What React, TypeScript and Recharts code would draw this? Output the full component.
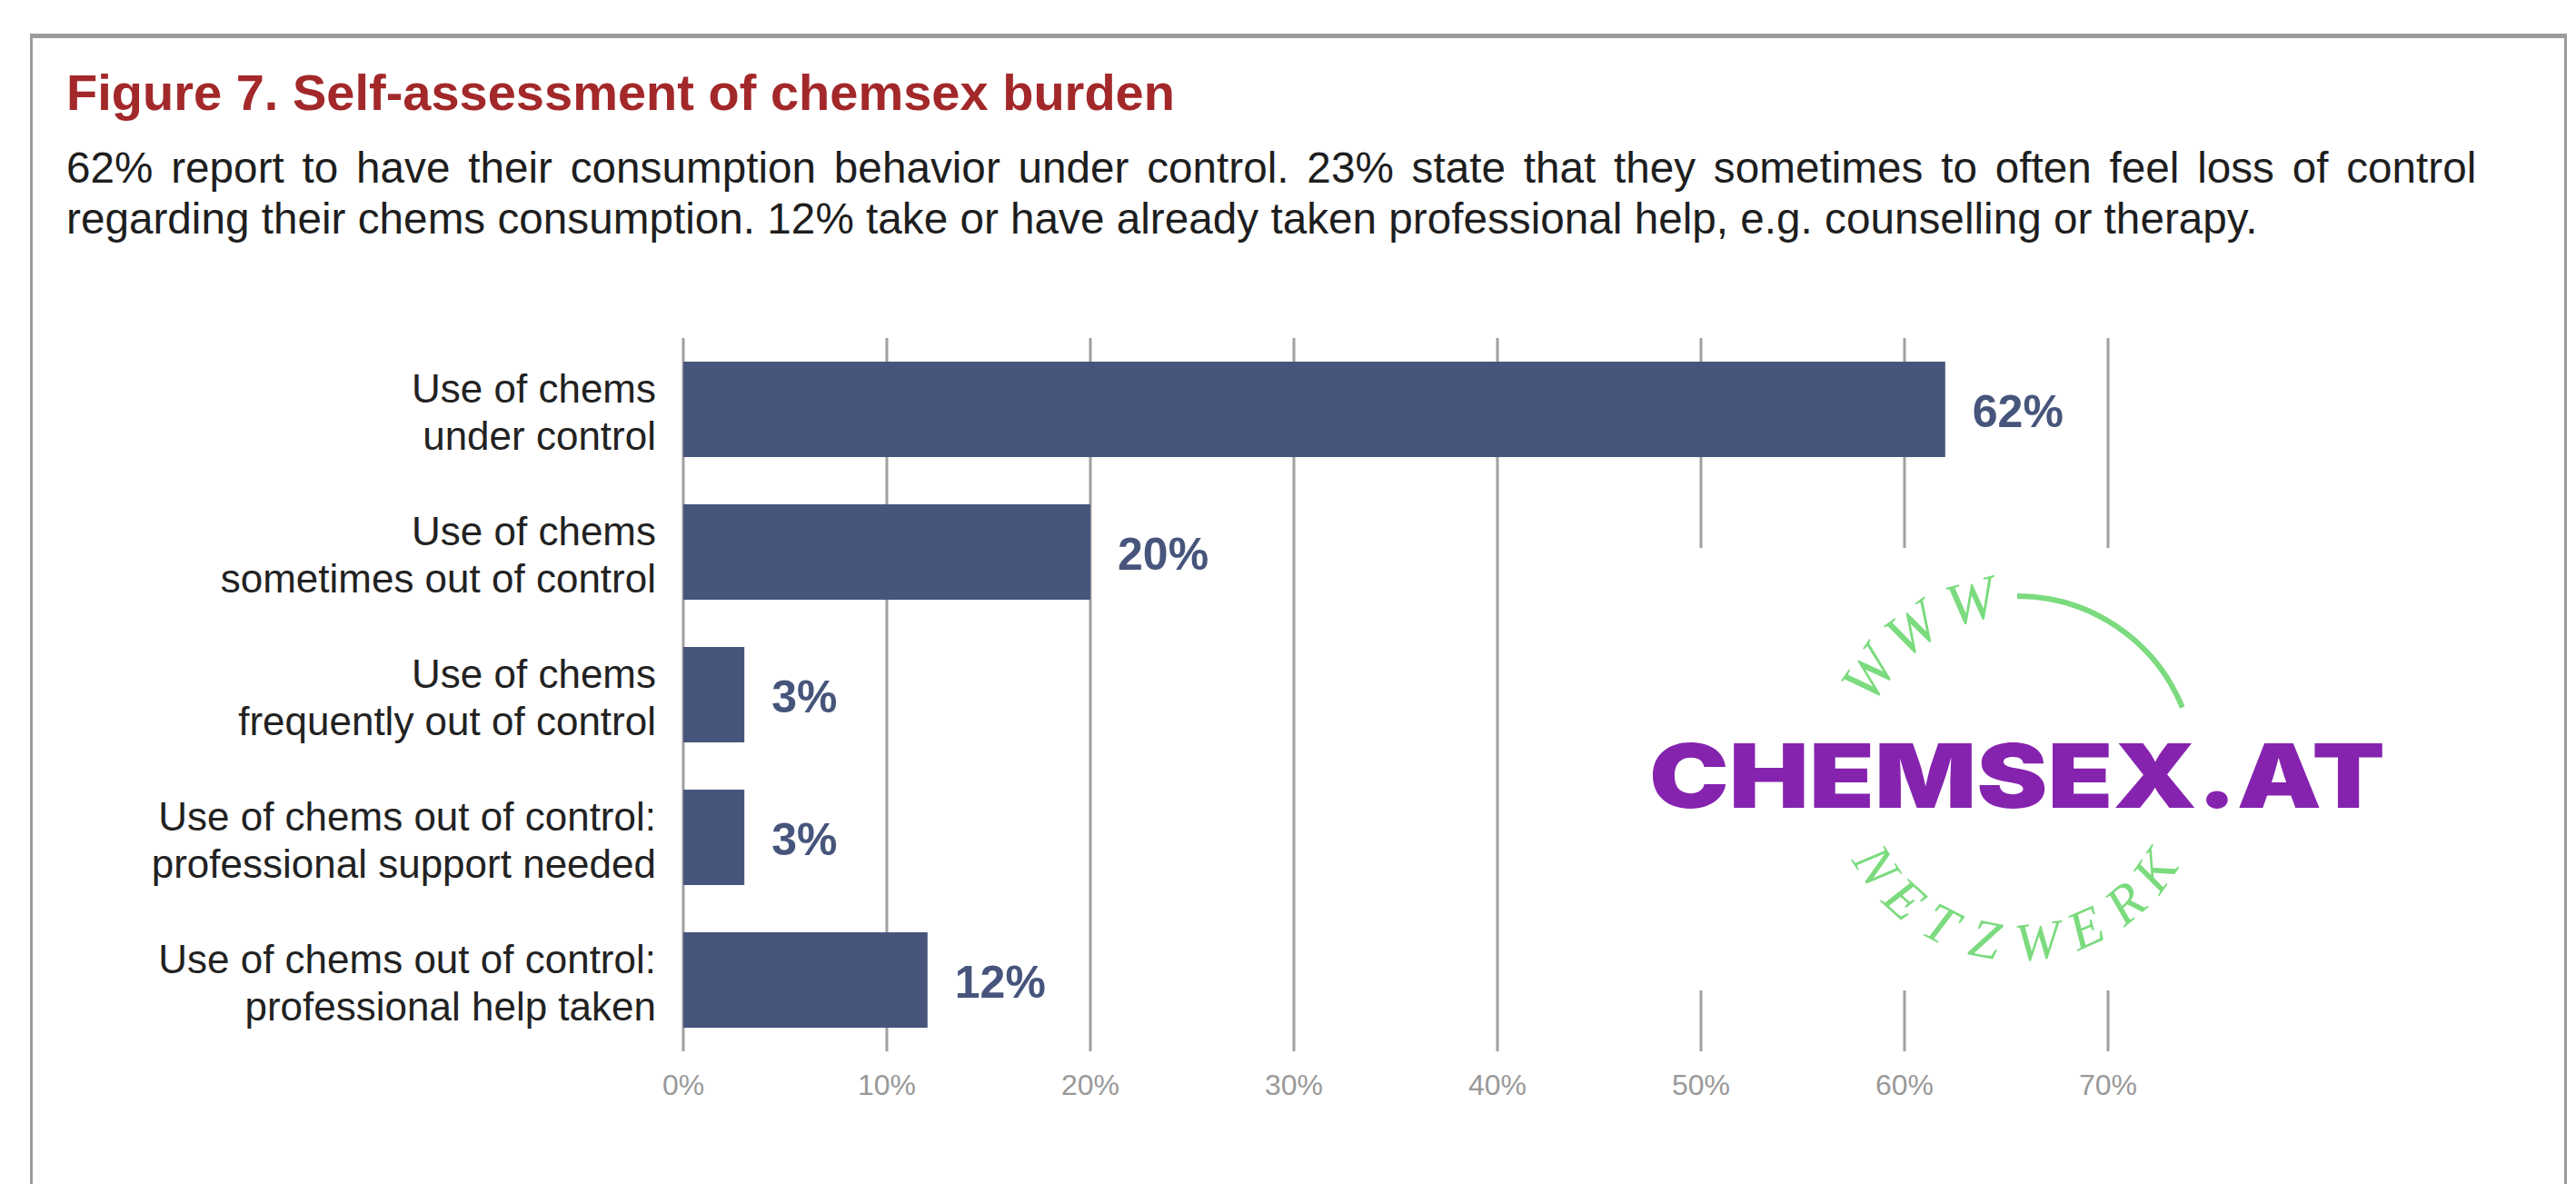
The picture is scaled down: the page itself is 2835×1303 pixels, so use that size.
import { BarChart, Bar, XAxis, YAxis, CartesianGrid, LabelList } from 'recharts'

// chart values
const categories = [
  'Use of chems\nunder control',
  'Use of chems\nsometimes out of control',
  'Use of chems\nfrequently out of control',
  'Use of chems out of control:\nprofessional support needed',
  'Use of chems out of control:\nprofessional help taken',
]
const shares = [62, 20, 3, 3, 12]
const xTicks = [0, 10, 20, 30, 40, 50, 60, 70]

const title = 'Figure 7. Self-assessment of chemsex burden'
const subtitle = [
  '62% report to have their consumption behavior under control. 23% state that they sometimes to often feel loss of control',
  'regarding their chems consumption. 12% take or have already taken professional help, e.g. counselling or therapy.',
]

// logo lettering (decoration, angles in degrees around the logo centre)
const topLetters = ['W', 'W', 'W']
const topAngles = [-146, -126, -105]
const bottomLetters = ['N', 'E', 'T', 'Z', 'W', 'E', 'R', 'K']
const bottomAngles = [147, 132, 117, 101, 83, 66, 50, 35]

const data = categories.map((c, i) => ({ category: c, share: shares[i] }))

const FONT = '"Liberation Sans", Arial, Helvetica, sans-serif'
const SERIF = '"Liberation Serif", "DejaVu Serif", serif'
const BAR = '#47557c'
const GRID = '#a0a0a0'
const GREEN = '#7bdb7e'
const PURPLE = '#8523af'

function CategoryTick({ x, y, payload }: any) {
  const lines = String(payload.value).split('\n')
  return (
    <text x={x} y={y} textAnchor="end" fontFamily={FONT} fontSize={44} fill="#222">
      <tspan x={x} dy={-8}>{lines[0]}</tspan>
      <tspan x={x} dy={52}>{lines[1]}</tspan>
    </text>
  )
}

function PercentTick({ x, y, payload }: any) {
  return (
    <text x={x} y={y + 46} textAnchor="middle" fontFamily={FONT} fontSize={32} fill="#999">
      {payload.value}%
    </text>
  )
}

function ValueLabel(p: any) {
  return (
    <text
      x={p.x + p.width + 30}
      y={p.y + p.height / 2 + 19}
      fontFamily={FONT}
      fontSize={50}
      fontWeight={700}
      fill={BAR}
    >
      {p.value}%
    </text>
  )
}

function Logo() {
  const cx = 2220
  const cy = 852
  const rad = (a: number) => (a * Math.PI) / 180
  return (
    <g>
      <rect x={1700} y={603} width={1000} height={487} fill="#fff" />
      <path
        d={`M ${cx + 196 * Math.cos(rad(-90))} ${cy + 196 * Math.sin(rad(-90))} A 196 196 0 0 1 ${
          cx + 196 * Math.cos(rad(-22))
        } ${cy + 196 * Math.sin(rad(-22))}`}
        stroke={GREEN}
        strokeWidth={6}
        fill="none"
      />
      {topLetters.map((l, i) => {
        const a = topAngles[i]
        const px = cx + 175 * Math.cos(rad(a))
        const py = cy + 175 * Math.sin(rad(a))
        return (
          <text
            key={'t' + i}
            x={px}
            y={py}
            textAnchor="middle"
            transform={`rotate(${a + 90} ${px} ${py})`}
            fontFamily={SERIF}
            fontStyle="italic"
            fontSize={66}
            fill={GREEN}
          >
            {l}
          </text>
        )
      })}
      {bottomLetters.map((l, i) => {
        const a = bottomAngles[i]
        const px = cx + 205 * Math.cos(rad(a))
        const py = cy + 205 * Math.sin(rad(a))
        return (
          <text
            key={'b' + i}
            x={px}
            y={py}
            textAnchor="middle"
            transform={`rotate(${a - 90} ${px} ${py})`}
            fontFamily={SERIF}
            fontStyle="italic"
            fontSize={60}
            fill={GREEN}
          >
            {l}
          </text>
        )
      })}
      <text
        x={1815}
        y={889}
        textLength={810}
        lengthAdjust="spacingAndGlyphs"
        fontFamily="Inter, 'DejaVu Sans', sans-serif"
        fontWeight={900}
        fontSize={98}
        fill={PURPLE}
      >
        CHEMSEX.AT
      </text>
    </g>
  )
}

export default function App() {
  return (
    <div style={{ position: 'absolute', left: 0, top: 0, width: 2835, height: 1303, overflow: 'hidden', background: '#fff' }}>
      <style>{'body{margin:0;overflow:hidden}'}</style>
      <div
        style={{
          position: 'absolute',
          left: 33,
          top: 37,
          width: 2792,
          height: 1400,
          boxSizing: 'border-box',
          borderTop: '5px solid #9b9b9b',
          borderLeft: '3px solid #9b9b9b',
          borderRight: '3px solid #9b9b9b',
        }}
      />
      <div style={{ position: 'absolute', left: 0, top: 0 }}>
        <BarChart
          width={2835}
          height={1303}
          data={data}
          layout="vertical"
          margin={{ top: 372, right: 515, bottom: 86, left: 0 }}
        >
          <CartesianGrid horizontal={false} stroke={GRID} strokeWidth={3} />
          <XAxis
            type="number"
            domain={[0, 70]}
            ticks={xTicks}
            axisLine={false}
            tickLine={false}
            tickSize={0}
            height={60}
            tick={<PercentTick />}
          />
          <YAxis
            type="category"
            dataKey="category"
            width={752}
            axisLine={false}
            tickLine={false}
            tickSize={0}
            tickMargin={30}
            interval={0}
            tick={<CategoryTick />}
          />
          <Bar dataKey="share" fill={BAR} barSize={105} isAnimationActive={false}>
            <LabelList dataKey="share" content={<ValueLabel />} />
          </Bar>
        </BarChart>
      </div>
      <svg width={2835} height={1303} style={{ position: 'absolute', left: 0, top: 0, pointerEvents: 'none' }}>
        <text x={73} y={121} fontFamily={FONT} fontSize={56} fontWeight={700} fill="#a3282a">
          {title}
        </text>
        {/* first line is justified in the reference, the last one is not */}
        <text x={73} y={201} fontFamily={FONT} fontSize={47.7} fill="#1e1e1e" style={{ wordSpacing: 6.5 }}>
          {subtitle[0]}
        </text>
        <text x={73} y={257} fontFamily={FONT} fontSize={47.7} fill="#1e1e1e">
          {subtitle[1]}
        </text>
        <Logo />
      </svg>
    </div>
  )
}
